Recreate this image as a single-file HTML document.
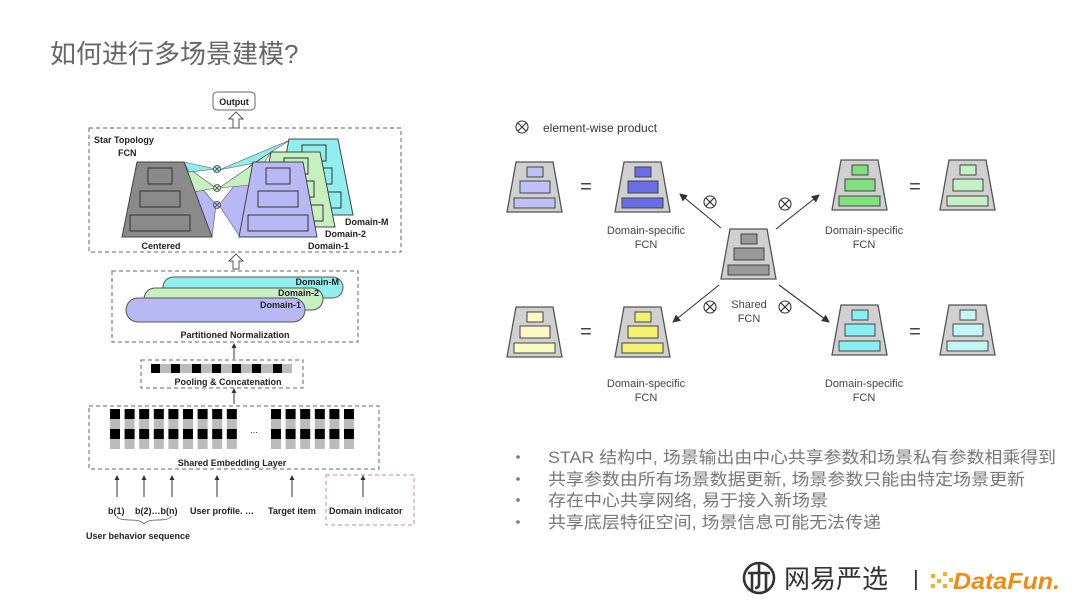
<!DOCTYPE html>
<html><head><meta charset="utf-8"><style>
html,body{margin:0;padding:0;background:#fff;}
svg{display:block;}
text{font-family:"Liberation Sans","Noto Sans CJK SC",sans-serif;}
</style></head><body>
<svg width="1080" height="608" viewBox="0 0 1080 608" xmlns="http://www.w3.org/2000/svg">
<defs>
<polygon id="tz" points="0,50 55,50 46,0 9,0" fill="#d0d0d0" stroke="#555" stroke-width="1.3"/>
<marker id="ah" markerWidth="8" markerHeight="8" refX="7" refY="4" orient="auto" markerUnits="userSpaceOnUse"><path d="M0,0 L8,4 L0,8 z" fill="#333"/></marker>
<marker id="sa" markerWidth="5" markerHeight="5" refX="4" refY="2.5" orient="auto" markerUnits="userSpaceOnUse"><path d="M0,0 L5,2.5 L0,5 z" fill="#333"/></marker>
</defs>

<!-- title -->
<text x="50" y="63" font-size="26" fill="#666">如何进行多场景建模?</text>

<!-- ========== LEFT DIAGRAM ========== -->
<rect x="213" y="92" width="42" height="18" rx="4" fill="#fff" stroke="#666"/>
<text x="234" y="105" font-size="9" font-weight="bold" text-anchor="middle" fill="#222">Output</text>
<path d="M233,128 V119 H229 L236,112 L243,119 H239 V128 Z" fill="#fff" stroke="#555" stroke-width="1"/>

<rect x="89" y="128" width="312" height="124" fill="none" stroke="#666" stroke-dasharray="4,3"/>
<text x="94" y="143" font-size="9" font-weight="bold" fill="#222">Star Topology</text>
<text x="118" y="156" font-size="9" font-weight="bold" fill="#222">FCN</text>

<!-- fans -->
<polygon points="186,170 216,205 212,237" fill="#b8b8f4" stroke="#555" stroke-width="0.6"/>
<polygon points="185,166 216,188 193,192" fill="#c6f0c0" stroke="#555" stroke-width="0.6"/>
<polygon points="184,162 216,169 189,172" fill="#90eeee" stroke="#555" stroke-width="0.6"/>
<polygon points="219,205 253,162 240,237" fill="#b8b8f4" stroke="#555" stroke-width="0.6"/>
<polygon points="219,188 271,152 250,185" fill="#c6f0c0" stroke="#555" stroke-width="0.6"/>
<polygon points="219,170 290,140 254,163" fill="#90eeee" stroke="#555" stroke-width="0.6"/>

<!-- centered -->
<polygon points="122,237 212,237 184,162 137,162" fill="#8a8a8a" stroke="#444"/>
<rect x="148" y="168" width="24" height="16" fill="none" stroke="#333"/>
<rect x="140" y="191" width="40" height="16" fill="none" stroke="#333"/>
<rect x="130" y="215" width="60" height="16" fill="none" stroke="#333"/>
<text x="161" y="249" font-size="9" font-weight="bold" text-anchor="middle" fill="#222">Centered</text>

<!-- domain M -->
<polygon points="275,215 353,215 338,139 289,139" fill="#90eeee" stroke="#444"/>
<rect x="302" y="145" width="24" height="16" fill="none" stroke="#333"/>
<rect x="292" y="168" width="40" height="16" fill="none" stroke="#333"/>
<rect x="283" y="192" width="58" height="16" fill="none" stroke="#333"/>
<!-- domain 2 -->
<polygon points="257,227 335,227 320,152 271,152" fill="#c6f0c0" stroke="#444"/>
<rect x="284" y="158" width="24" height="16" fill="none" stroke="#333"/>
<rect x="274" y="181" width="40" height="16" fill="none" stroke="#333"/>
<rect x="265" y="205" width="58" height="16" fill="none" stroke="#333"/>
<!-- domain 1 -->
<polygon points="239,237 317,237 303,162 253,162" fill="#b8b8f4" stroke="#444"/>
<rect x="266" y="168" width="24" height="16" fill="none" stroke="#333"/>
<rect x="258" y="191" width="40" height="16" fill="none" stroke="#333"/>
<rect x="248" y="215" width="60" height="16" fill="none" stroke="#333"/>

<g font-size="9" font-weight="bold" fill="#222">
<text x="345" y="225">Domain-M</text>
<text x="325" y="237">Domain-2</text>
<text x="308" y="249">Domain-1</text>
</g>
<!-- circles -->
<g stroke="#444" stroke-width="0.8">
<circle cx="217" cy="169" r="3.5" fill="#90eeee"/><path d="M214.5,166.5 l5,5 M219.5,166.5 l-5,5"/>
<circle cx="217" cy="188" r="3.5" fill="#c6f0c0"/><path d="M214.5,185.5 l5,5 M219.5,185.5 l-5,5"/>
<circle cx="217" cy="205" r="3.5" fill="#b8b8f4"/><path d="M214.5,202.5 l5,5 M219.5,202.5 l-5,5"/>
</g>

<path d="M233,269 V261 H229 L236,254 L243,261 H239 V269 Z" fill="#fff" stroke="#555" stroke-width="1"/>

<!-- partitioned normalization -->
<rect x="112" y="271" width="246" height="71" fill="none" stroke="#666" stroke-dasharray="4,3"/>
<rect x="163" y="277" width="180" height="21" rx="10.5" fill="#90eeee" stroke="#555"/>
<rect x="144" y="288" width="179" height="22" rx="11" fill="#c6f0c0" stroke="#555"/>
<rect x="126" y="298" width="179" height="24" rx="12" fill="#b8b8f4" stroke="#555"/>
<g font-size="9" font-weight="bold" fill="#222" text-anchor="end">
<text x="339" y="285">Domain-M</text>
<text x="319" y="296">Domain-2</text>
<text x="301" y="308">Domain-1</text>
</g>
<text x="235" y="338" font-size="9" font-weight="bold" text-anchor="middle" fill="#222">Partitioned Normalization</text>

<line x1="234" y1="359" x2="234" y2="344" stroke="#333" marker-end="url(#sa)"/>

<!-- pooling -->
<rect x="141" y="360" width="162" height="28" fill="none" stroke="#666" stroke-dasharray="4,3"/>
<rect x="151" y="364" width="141" height="9" fill="#bbb"/>
<g fill="#000">
<rect x="151" y="364" width="9" height="9"/><rect x="171" y="364" width="9" height="9"/><rect x="192" y="364" width="9" height="9"/><rect x="212" y="364" width="9" height="9"/><rect x="232" y="364" width="9" height="9"/><rect x="252" y="364" width="9" height="9"/><rect x="273" y="364" width="9" height="9"/>
</g>
<text x="228" y="385" font-size="9" font-weight="bold" text-anchor="middle" fill="#222">Pooling &amp; Concatenation</text>

<line x1="234" y1="404" x2="234" y2="389" stroke="#333" marker-end="url(#sa)"/>

<!-- embedding -->
<rect x="89" y="406" width="290" height="63" fill="none" stroke="#666" stroke-dasharray="4,3"/>
<g id="col">
<rect x="110" y="409" width="10" height="10" fill="#000"/><rect x="110" y="419" width="10" height="10" fill="#bbb"/><rect x="110" y="429" width="10" height="10" fill="#000"/><rect x="110" y="439" width="10" height="10" fill="#bbb"/>
</g>
<use href="#col" x="14.6"/><use href="#col" x="29.2"/><use href="#col" x="43.8"/><use href="#col" x="58.4"/><use href="#col" x="73"/><use href="#col" x="87.6"/><use href="#col" x="102.2"/><use href="#col" x="116.8"/>
<use href="#col" x="161"/><use href="#col" x="175.6"/><use href="#col" x="190.2"/><use href="#col" x="204.8"/><use href="#col" x="219.4"/><use href="#col" x="234"/>
<text x="254" y="433" font-size="9" fill="#222" text-anchor="middle">...</text>
<text x="232" y="466" font-size="9" font-weight="bold" text-anchor="middle" fill="#222">Shared Embedding Layer</text>

<g stroke="#333">
<line x1="117" y1="497" x2="117" y2="476" marker-end="url(#sa)"/>
<line x1="144" y1="497" x2="144" y2="476" marker-end="url(#sa)"/>
<line x1="172" y1="497" x2="172" y2="476" marker-end="url(#sa)"/>
<line x1="217" y1="497" x2="217" y2="476" marker-end="url(#sa)"/>
<line x1="292" y1="497" x2="292" y2="476" marker-end="url(#sa)"/>
<line x1="363" y1="497" x2="363" y2="476" marker-end="url(#sa)"/>
</g>
<rect x="326" y="475" width="88" height="50" fill="none" stroke="#d88" stroke-dasharray="4,3"/>
<g font-size="9" font-weight="bold" fill="#222">
<text x="108" y="514">b(1)</text>
<text x="135" y="514">b(2)…b(n)</text>
<text x="190" y="514">User profile. …</text>
<text x="268" y="514">Target item</text>
<text x="329" y="514">Domain indicator</text>
<text x="86" y="539">User behavior sequence</text>
</g>
<path d="M117,516 q0,4 14,4 q10,0 13,4 q3,-4 13,-4 q14,0 14,-4" fill="none" stroke="#555" stroke-width="0.8"/>

<!-- ========== RIGHT DIAGRAM ========== -->
<g stroke="#333" stroke-width="1.1" fill="none">
<circle cx="522" cy="127" r="6"/><path d="M517.8,122.8 l8.4,8.4 M526.2,122.8 l-8.4,8.4"/>
</g>
<text x="543" y="132" font-size="12" fill="#333">element-wise product</text>

<g transform="translate(507,162)"><use href="#tz"/><rect x="20" y="5" width="16" height="10" fill="#c0c0f6" stroke="#444"/><rect x="13" y="19" width="30" height="12" fill="#c0c0f6" stroke="#444"/><rect x="7" y="36" width="41" height="10" fill="#c0c0f6" stroke="#444"/></g>
<g transform="translate(615,162)"><use href="#tz"/><rect x="20" y="5" width="16" height="10" fill="#6a6ee6" stroke="#444"/><rect x="13" y="19" width="30" height="12" fill="#6a6ee6" stroke="#444"/><rect x="7" y="36" width="41" height="10" fill="#6a6ee6" stroke="#444"/></g>
<g transform="translate(832,160)"><use href="#tz"/><rect x="20" y="5" width="16" height="10" fill="#80e080" stroke="#444"/><rect x="13" y="19" width="30" height="12" fill="#80e080" stroke="#444"/><rect x="7" y="36" width="41" height="10" fill="#80e080" stroke="#444"/></g>
<g transform="translate(940,160)"><use href="#tz"/><rect x="20" y="5" width="16" height="10" fill="#c4f0c4" stroke="#444"/><rect x="13" y="19" width="30" height="12" fill="#c4f0c4" stroke="#444"/><rect x="7" y="36" width="41" height="10" fill="#c4f0c4" stroke="#444"/></g>
<g transform="translate(507,307)"><use href="#tz"/><rect x="20" y="5" width="16" height="10" fill="#fafac4" stroke="#444"/><rect x="13" y="19" width="30" height="12" fill="#fafac4" stroke="#444"/><rect x="7" y="36" width="41" height="10" fill="#fafac4" stroke="#444"/></g>
<g transform="translate(615,307)"><use href="#tz"/><rect x="20" y="5" width="16" height="10" fill="#f4f070" stroke="#444"/><rect x="13" y="19" width="30" height="12" fill="#f4f070" stroke="#444"/><rect x="7" y="36" width="41" height="10" fill="#f4f070" stroke="#444"/></g>
<g transform="translate(832,305)"><use href="#tz"/><rect x="20" y="5" width="16" height="10" fill="#88eef0" stroke="#444"/><rect x="13" y="19" width="30" height="12" fill="#88eef0" stroke="#444"/><rect x="7" y="36" width="41" height="10" fill="#88eef0" stroke="#444"/></g>
<g transform="translate(940,305)"><use href="#tz"/><rect x="20" y="5" width="16" height="10" fill="#c4f6f8" stroke="#444"/><rect x="13" y="19" width="30" height="12" fill="#c4f6f8" stroke="#444"/><rect x="7" y="36" width="41" height="10" fill="#c4f6f8" stroke="#444"/></g>
<g transform="translate(721,229)"><use href="#tz"/><rect x="20" y="5" width="16" height="10" fill="#999" stroke="#444"/><rect x="13" y="19" width="30" height="12" fill="#999" stroke="#444"/><rect x="7" y="36" width="41" height="10" fill="#999" stroke="#444"/></g>

<g font-size="20" fill="#444" text-anchor="middle">
<text x="586" y="193">=</text><text x="915" y="193">=</text>
<text x="586" y="338">=</text><text x="915" y="338">=</text>
</g>
<g font-size="11" fill="#444" text-anchor="middle">
<text x="646" y="234">Domain-specific</text><text x="646" y="248">FCN</text>
<text x="864" y="234">Domain-specific</text><text x="864" y="248">FCN</text>
<text x="646" y="387">Domain-specific</text><text x="646" y="401">FCN</text>
<text x="864" y="387">Domain-specific</text><text x="864" y="401">FCN</text>
<text x="749" y="308">Shared</text><text x="749" y="322">FCN</text>
</g>
<g stroke="#333" stroke-width="1.1">
<line x1="721" y1="228" x2="680" y2="194" marker-end="url(#ah)"/>
<line x1="776" y1="229" x2="819" y2="195" marker-end="url(#ah)"/>
<line x1="719" y1="285" x2="673" y2="322" marker-end="url(#ah)"/>
<line x1="779" y1="285" x2="829" y2="322" marker-end="url(#ah)"/>
</g>
<g stroke="#333" stroke-width="1.1" fill="none">
<circle cx="710" cy="202" r="6"/><path d="M705.8,197.8 l8.4,8.4 M714.2,197.8 l-8.4,8.4"/>
<circle cx="785" cy="204" r="6"/><path d="M780.8,199.8 l8.4,8.4 M789.2,199.8 l-8.4,8.4"/>
<circle cx="710" cy="307" r="6"/><path d="M705.8,302.8 l8.4,8.4 M714.2,302.8 l-8.4,8.4"/>
<circle cx="785" cy="307" r="6"/><path d="M780.8,302.8 l8.4,8.4 M789.2,302.8 l-8.4,8.4"/>
</g>

<!-- bullets -->
<g fill="#777" font-size="16.5">
<circle cx="518" cy="457" r="1.8"/><circle cx="518" cy="479" r="1.8"/><circle cx="518" cy="500" r="1.8"/><circle cx="518" cy="522" r="1.8"/>
<text x="548" y="463" textLength="508" lengthAdjust="spacingAndGlyphs">STAR 结构中, 场景输出由中心共享参数和场景私有参数相乘得到</text>
<text x="548" y="485" textLength="477" lengthAdjust="spacingAndGlyphs">共享参数由所有场景数据更新, 场景参数只能由特定场景更新</text>
<text x="548" y="506" textLength="280" lengthAdjust="spacingAndGlyphs">存在中心共享网络, 易于接入新场景</text>
<text x="548" y="528" textLength="333" lengthAdjust="spacingAndGlyphs">共享底层特征空间, 场景信息可能无法传递</text>
</g>

<!-- logos -->
<g stroke="#333" stroke-width="2.6" fill="none">
<circle cx="759" cy="578" r="15"/>
<path d="M748,573 H770 M752,573 V592 M766,573 V592 M759,563 V584 Q759,588 755,588"/>
</g>
<text x="784" y="588" font-size="26" fill="#333">网易严选</text>
<rect x="915" y="570" width="1.8" height="20" fill="#333"/>
<g fill="#f5b21a">
<rect x="931" y="574" width="4" height="4"/><rect x="937" y="579" width="4" height="4"/><rect x="931" y="584" width="4" height="4"/><rect x="943" y="572" width="4" height="4"/><rect x="943" y="584" width="4" height="4"/><rect x="949" y="578" width="4" height="4"/>
</g>
<text x="953" y="589" font-size="23" font-weight="bold" font-style="italic" fill="#f08a10" textLength="107" lengthAdjust="spacingAndGlyphs">DataFun.</text>
</svg>
</body></html>
